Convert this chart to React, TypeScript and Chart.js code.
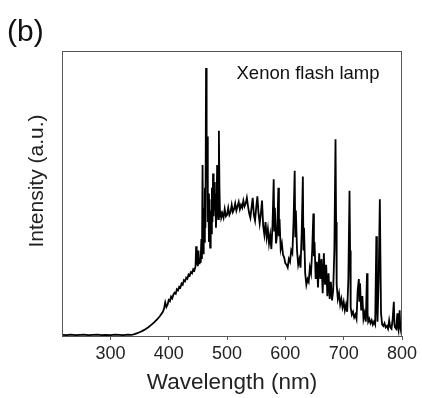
import React, { useEffect, useRef } from "react";
import { Chart, registerables } from "chart.js";

Chart.register(...registerables);

const wavelengths: number[] = [
  218, 225, 232, 240, 248, 255, 262, 270, 278, 285, 292, 300, 308, 315, 322, 330, 336, 340,
  345, 350, 355, 360, 365, 370, 375, 380, 385, 390, 392, 394, 396, 398, 400, 402, 404, 406,
  408, 410, 412, 414, 416, 418, 420, 422, 424, 426, 428, 430, 432, 434, 436, 438, 440, 442,
  444, 446, 447, 448, 449, 450, 451, 452, 453, 454, 455, 456, 457, 458, 459, 460, 461, 462,
  463, 464, 465, 466, 467, 468, 469, 470, 471, 472, 473, 474, 475, 476, 477, 478, 479, 480,
  481, 482, 483, 484, 485, 486, 487, 488, 489, 490, 492, 494, 496, 498, 500, 502, 504, 506,
  508, 510, 512, 514, 516, 518, 520, 522, 524, 526, 528, 530, 532, 534, 536, 538, 540, 542,
  544, 546, 548, 550, 552, 554, 556, 558, 560, 562, 564, 566, 568, 570, 572, 574, 576, 578,
  580, 581, 582, 584, 586, 588, 589, 590, 592, 594, 596, 598, 600, 602, 604, 606, 608, 610,
  612, 614, 616, 617, 618, 620, 622, 624, 626, 628, 630, 631, 632, 634, 636, 638, 640, 642,
  644, 646, 648, 649, 650, 652, 654, 656, 658, 660, 662, 664, 666, 668, 670, 672, 674, 676,
  678, 680, 682, 684, 686, 687, 688, 690, 692, 694, 696, 698, 700, 702, 704, 706, 708, 710,
  711, 712, 714, 716, 718, 720, 722, 724, 726, 727, 728, 730, 732, 734, 736, 738, 740, 741,
  742, 744, 746, 748, 750, 752, 754, 756, 757, 758, 760, 762, 763, 764, 766, 768, 770, 772,
  774, 776, 778, 780, 782, 784, 786, 787, 788, 790, 792, 793, 794, 796, 797, 798, 800,
];

const intensity: number[] = [
  0.4, 0.3, 0.5, 0.3, 0.4, 0.5, 0.3, 0.4, 0.5, 0.3, 0.4, 0.3, 0.5, 0.4, 0.3, 0.5, 0.4, 0.6,
  0.9, 1.3, 1.8, 2.4, 3.1, 3.9, 4.8, 5.8, 7.0, 8.5, 9.6, 11.8, 10.2, 11.0, 12.6, 12.2, 13.8, 13.2,
  14.6, 15.2, 14.8, 16.4, 16.0, 17.3, 17.0, 18.4, 18.0, 19.6, 19.2, 20.5, 20.1, 21.6, 21.2, 22.4, 22.0, 23.4,
  23.0, 24.5, 31.5, 25.0, 28.5, 24.5, 30.0, 25.5, 27.5, 26.0, 28.0, 34.0, 27.0, 60.0, 29.0, 45.0, 33.0, 52.0,
  38.0, 94.0, 55.0, 70.0, 40.0, 50.0, 33.0, 48.0, 31.0, 44.0, 36.0, 52.0, 40.0, 57.0, 42.0, 54.0, 44.0, 50.0,
  38.0, 44.0, 60.0, 46.0, 41.0, 72.0, 52.0, 42.0, 44.0, 41.5, 43.0, 41.5, 44.5, 42.0, 42.5, 45.0, 42.5, 43.5,
  46.0, 43.5, 44.5, 46.5, 44.0, 45.5, 47.0, 44.5, 46.0, 45.0, 47.5, 45.5, 46.5, 48.5, 45.5, 43.0, 41.5, 45.0,
  48.5, 42.5, 40.5, 45.0, 49.0, 43.0, 39.5, 43.0, 47.5, 38.5, 35.5, 40.0, 34.5, 37.5, 32.5, 35.5, 30.5, 39.0,
  55.0, 37.0, 45.0, 32.5, 36.0, 52.0, 35.0, 41.0, 30.5, 32.5, 28.5, 27.5, 25.5, 25.0, 24.0, 27.0, 26.0, 30.0,
  29.0, 40.0, 58.0, 35.0, 44.0, 30.0, 25.0, 27.0, 24.0, 36.0, 56.0, 30.0, 38.0, 22.0, 18.0, 20.0, 19.0, 24.0,
  22.0, 30.0, 43.0, 28.0, 33.0, 20.0, 26.0, 17.0, 29.0, 20.0, 27.0, 15.0, 29.0, 18.0, 25.0, 14.0, 22.0, 13.0,
  19.0, 12.5, 16.0, 30.0, 69.0, 40.0, 18.0, 13.0, 15.0, 11.0, 13.0, 10.0, 12.0, 9.0, 11.0, 8.5, 20.0, 51.0,
  30.0, 10.0, 7.5, 8.5, 6.5, 7.5, 6.0, 16.0, 20.0, 12.0, 18.5, 9.0, 14.0, 6.0, 8.0, 5.0, 22.0, 8.0,
  5.0, 6.0, 4.5, 5.5, 4.0, 5.0, 4.0, 35.0, 10.0, 5.0, 20.0, 48.0, 28.0, 8.0, 4.0, 3.5, 4.5, 3.0,
  3.5, 2.5, 5.5, 3.0, 2.5, 6.0, 12.0, 4.0, 3.0, 2.5, 8.0, 3.0, 2.0, 9.0, 3.0, 2.0, 5.0,
];

const xTickValues: number[] = [300, 400, 500, 600, 700, 800];
const panelLabel = "(b)";
const annotationText = "Xenon flash lamp";
const xTitle = "Wavelength (nm)";
const yTitle = "Intensity (a.u.)";

const FONT = "'Liberation Sans', Arial, sans-serif";

const textPlugin = {
  id: "textPlugin",
  afterDraw(chart: any) {
    const { ctx, chartArea } = chart;
    ctx.save();
    // frame
    ctx.strokeStyle = "#555";
    ctx.lineWidth = 1;
    ctx.strokeRect(
      Math.round(chartArea.left) + 0.5,
      Math.round(chartArea.top) + 0.5,
      Math.round(chartArea.right - chartArea.left) - 1,
      Math.round(chartArea.bottom - chartArea.top)
    );
    // panel label
    ctx.fillStyle = "#111";
    ctx.font = `30px ${FONT}`;
    ctx.textAlign = "left";
    ctx.textBaseline = "middle";
    ctx.fillText(panelLabel, 7, 33);
    // annotation
    ctx.font = `18.5px ${FONT}`;
    ctx.textAlign = "center";
    ctx.fillText(annotationText, 308, 74);
    // y title
    ctx.font = `21px ${FONT}`;
    ctx.translate(37, 181);
    ctx.rotate(-Math.PI / 2);
    ctx.textAlign = "center";
    ctx.textBaseline = "middle";
    ctx.fillStyle = "#222";
    ctx.fillText(yTitle, 0, 0);
    ctx.restore();
  },
};

export default function App() {
  const canvasRef = useRef<HTMLCanvasElement | null>(null);

  useEffect(() => {
    if (!canvasRef.current) return;
    const points = wavelengths.map((w, i) => ({ x: w, y: intensity[i] }));
    const chart = new Chart(canvasRef.current, {
      type: "line",
      data: {
        datasets: [
          {
            data: points,
            borderColor: "#000",
            borderWidth: 1.8,
            pointRadius: 0,
            tension: 0,
            fill: false,
          },
        ],
      },
      options: {
        animation: false,
        responsive: false,
        maintainAspectRatio: false,
        layout: { padding: { top: 51, right: 20, left: 0, bottom: 0 } },
        plugins: { legend: { display: false }, tooltip: { enabled: false } },
        scales: {
          x: {
            type: "linear",
            min: 217,
            max: 800,
            afterBuildTicks: (scale: any) => {
              scale.ticks = xTickValues.map((v) => ({ value: v }));
            },
            afterFit: (scale: any) => {
              scale.height = 62;
            },
            grid: { drawOnChartArea: false, tickLength: 4, color: "#555" },
            border: { color: "#555", width: 1 },
            ticks: {
              color: "#222",
              padding: 3,
              maxRotation: 0,
              font: { family: FONT, size: 18 },
            },
            title: {
              display: true,
              text: xTitle,
              color: "#222",
              font: { family: FONT, size: 22.5 },
              padding: { top: 0, bottom: 2 },
            },
          },
          y: {
            type: "linear",
            min: 0,
            max: 100,
            afterFit: (scale: any) => {
              scale.width = 62;
            },
            grid: { display: false },
            border: { display: false },
            ticks: { display: false },
          },
        },
      },
      plugins: [textPlugin],
    });
    return () => chart.destroy();
  }, []);

  return (
    <div style={{ position: "fixed", left: 0, top: 0, width: 422, height: 398, background: "#fff" }}>
      <canvas ref={canvasRef} width={422} height={398} style={{ width: 422, height: 398 }} />
    </div>
  );
}
